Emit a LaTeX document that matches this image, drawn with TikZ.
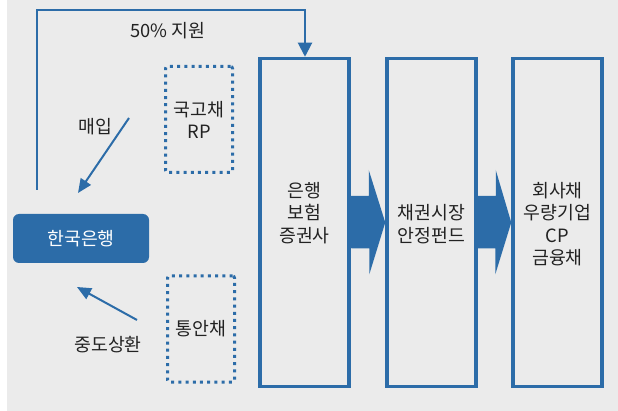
\documentclass[tikz,border=0pt]{standalone}
\usepackage{fontspec}
\setmainfont{Noto Sans CJK KR}
\usetikzlibrary{arrows.meta}
\definecolor{bblue}{HTML}{2C6CA8}
\definecolor{bgray}{HTML}{EBEBEB}
\definecolor{txt}{HTML}{222222}
\tikzset{
  lbl/.style={text=txt,font=\fontsize{18.3}{22.3}\selectfont,align=center,inner sep=0pt},
  bigbox/.style={draw=bblue,line width=3.5pt,minimum width=89pt,minimum height=328pt,inner sep=0pt},
  dotbox/.style={draw=bblue,line width=3pt,dash pattern=on 3pt off 4.2pt,rounded corners=2pt,minimum width=67pt,minimum height=106pt,inner sep=0pt},
  conn/.style={draw=bblue,line width=2pt},
  blockarrow/.style={fill=bblue,draw=none}
}
\begin{document}
\begin{tikzpicture}[x=1pt,y=-1pt]
\useasboundingbox (0,0) rectangle (618,411);
\fill[white] (0,0) rectangle (7,411);
\fill[bgray] (7,0) rectangle (618,411);
% big boxes
\node[bigbox] (b1) at (304.5,222.5) {};
\node[bigbox] (b2) at (431.5,222.5) {};
\node[bigbox] (b3) at (557.5,222.5) {};
\node[lbl] (t1) at (304.5,213) {은행\\보험\\증권사};
\node[lbl] (t2) at (431.5,224) {채권시장\\안정펀드};
\node[lbl] (t3) at (557.5,224) {회사채\\우량기업\\CP\\금융채};
% block arrows
\fill[blockarrow] (b1.east) ++(0,-26.5) -- ++(18,0) -- ++(0,-26) -- (b2.west) -- ++(-16,52) -- ++(0,-26) -- ++(-18,0) -- cycle;
\fill[blockarrow] (b2.east) ++(0,-26.5) -- ++(18,0) -- ++(0,-26) -- (b3.west) -- ++(-16,52) -- ++(0,-26) -- ++(-18,0) -- cycle;
% bank
\node[fill=bblue,rounded corners=6pt,minimum width=136pt,minimum height=49pt,text=white,font=\fontsize{18.3}{20}\selectfont,inner sep=0pt] (bok) at (81,238.5) {한국은행};
% dotted boxes
\node[dotbox] (rp) at (199,119.5) {};
\node[lbl] (rpt) at (199,120) {국고채\\RP};
\node[dotbox] (ta) at (201,329) {};
\node[lbl] (tat) at (201,329) {통안채};
% top connector
\coordinate (s0) at (37,190);
\coordinate (c1) at (37,10);
\coordinate (c2) at (305,10);
\draw[conn,-{Triangle[width=14pt,length=14pt]}] (s0) -- (c1) -- (c2) -- (b1.north -| c2);
\node[lbl] (sup) at (168,31) {50\% 지원};
% 매입
\coordinate (m0) at (129,118);
\coordinate (m1) at (78,193);
\draw[conn,-{Triangle[width=12pt,length=14pt]}] (m0) -- (m1);
\node[lbl] (ml) at (95,127) {매입};
% 중도상환
\coordinate (j0) at (137,320);
\coordinate (j1) at (77,287);
\draw[conn,-{Triangle[width=12pt,length=14pt]}] (j0) -- (j1);
\node[lbl] (jl) at (108,345) {중도상환};
\end{tikzpicture}
\end{document}
